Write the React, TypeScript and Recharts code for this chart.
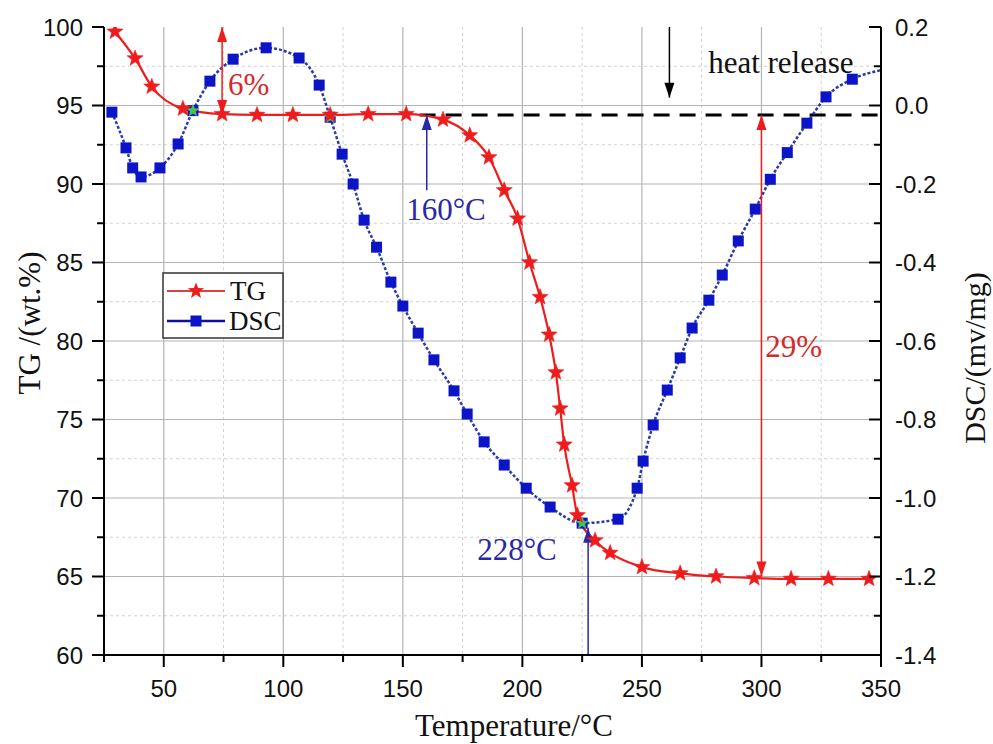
import React from "react";
import { LineChart, Line, XAxis, YAxis, CartesianGrid, ReferenceLine, ReferenceDot } from "recharts";

// TG curve (red stars), temperature in °C, mass in wt.%
const TG_TEMP = [29.6, 38, 45, 58, 74.4, 89, 104, 119.6, 135.5, 151.4, 166.8, 178, 186, 192.4, 198, 203, 207.4, 211.2, 214, 215.8, 217.5, 220.8, 223, 230.4, 236.7, 250, 266, 281, 297, 312.4, 328, 345];
const TG_VALUES = [99.7, 98.0, 96.2, 94.8, 94.45, 94.4, 94.4, 94.4, 94.45, 94.45, 94.1, 93.1, 91.7, 89.6, 87.8, 85.0, 82.8, 80.4, 78.0, 75.7, 73.4, 70.8, 68.9, 67.3, 66.5, 65.6, 65.2, 65.0, 64.9, 64.85, 64.85, 64.85];

// DSC curve (blue squares), mv/mg
const DSC_TEMP = [28.3, 34.2, 37, 40.5, 48.4, 56, 62.2, 69.3, 79, 92.8, 106.6, 115, 119.6, 124.6, 129.2, 133.8, 139, 145, 150, 156.4, 163, 171.4, 176.9, 184, 192.4, 201.6, 211.6, 225, 240, 248, 250.5, 254.7, 260.6, 266, 271, 278, 283.6, 290.3, 297.4, 303.7, 310.8, 319, 327, 338, 350];
const DSC_VALUES = [-0.017, -0.108, -0.159, -0.182, -0.159, -0.098, -0.013, 0.062, 0.118, 0.147, 0.121, 0.052, -0.03, -0.124, -0.2, -0.292, -0.361, -0.45, -0.511, -0.58, -0.648, -0.727, -0.786, -0.857, -0.916, -0.975, -1.023, -1.064, -1.054, -0.975, -0.906, -0.814, -0.725, -0.643, -0.567, -0.496, -0.432, -0.345, -0.264, -0.188, -0.12, -0.045, 0.022, 0.067, 0.09];
// crossing points marked green on the DSC curve
const HIGHLIGHT_TEMPS = [62.2, 119.6, 225];

const X_MAJOR = [50, 100, 150, 200, 250, 300, 350];
const X_MINOR = [25, 75, 125, 175, 225, 275, 325];
const TG_MAJOR = [60, 65, 70, 75, 80, 85, 90, 95, 100];
const TG_MINOR = [62.5, 67.5, 72.5, 77.5, 82.5, 87.5, 92.5, 97.5];
const DSC_MAJOR = [-1.4, -1.2, -1.0, -0.8, -0.6, -0.4, -0.2, 0.0, 0.2];
const DSC_MINOR = [-1.3, -1.1, -0.9, -0.7, -0.5, -0.3, -0.1, 0.1];

const tgData = TG_TEMP.map((t, i) => ({ t, tg: TG_VALUES[i] }));
const dscData = DSC_TEMP.map((t, i) => ({ t, dsc: DSC_VALUES[i] }));

const SANS = "'Liberation Sans', Arial, sans-serif";
const SERIF = "'Liberation Serif', 'Times New Roman', serif";
const RED = "#ee1c1c";
const BLUE = "#0c14c8";
const NOTE_BLUE = "#2828a8";

const isMajor = (list: number[], v: number) => list.some((m) => Math.abs(m - v) < 1e-6);

const starPath = (cx: number, cy: number, R: number, r: number) => {
  let d = "";
  for (let i = 0; i < 10; i++) {
    const a = -Math.PI / 2 + (i * Math.PI) / 5;
    const rad = i % 2 === 0 ? R : r;
    d += (i === 0 ? "M" : "L") + (cx + rad * Math.cos(a)).toFixed(2) + "," + (cy + rad * Math.sin(a)).toFixed(2);
  }
  return d + "Z";
};

const BottomTick = (props: any) => {
  const { x, y, payload } = props;
  const major = isMajor(X_MAJOR, payload.value);
  return (
    <g>
      <line x1={x} x2={x} y1={y} y2={y + (major ? 12 : 7)} stroke="#000" strokeWidth={2} />
      {major && (
        <text x={x} y={y + 42} textAnchor="middle" fontFamily={SANS} fontSize={24} fill="#111">
          {payload.value}
        </text>
      )}
    </g>
  );
};

const LeftTick = (props: any) => {
  const { x, y, payload } = props;
  const major = isMajor(TG_MAJOR, payload.value);
  return (
    <g>
      <line x1={x} x2={x - (major ? 12 : 7)} y1={y} y2={y} stroke="#000" strokeWidth={2} />
      {major && (
        <text x={x - 21} y={y} dy={8.5} textAnchor="end" fontFamily={SANS} fontSize={24} fill="#111">
          {payload.value}
        </text>
      )}
    </g>
  );
};

const RightTick = (props: any) => {
  const { x, y, payload } = props;
  const major = isMajor(DSC_MAJOR, payload.value);
  return (
    <g>
      <line x1={x} x2={x - (major ? 12 : 7)} y1={y} y2={y} stroke="#000" strokeWidth={2} />
      {major && (
        <text x={x + 14} y={y} dy={8.5} textAnchor="start" fontFamily={SANS} fontSize={24} fill="#111">
          {payload.value.toFixed(1)}
        </text>
      )}
    </g>
  );
};

const StarDot = (props: any) => {
  const { cx, cy, index } = props;
  return <path key={`tg-${index}`} d={starPath(cx, cy, 8.5, 3.6)} fill={RED} stroke={RED} strokeWidth={0.5} />;
};

const SquareDot = (props: any) => {
  const { cx, cy, index, payload } = props;
  if (index === DSC_TEMP.length - 1) return <g key={`dsc-${index}`} />;
  const hl = HIGHLIGHT_TEMPS.some((t) => Math.abs(t - payload.t) < 0.01);
  return (
    <g key={`dsc-${index}`}>
      <rect x={cx - 5.5} y={cy - 5.5} width={11} height={11} fill={BLUE} />
      {hl && <path d={starPath(cx, cy, 7, 3)} fill="#4cc04c" />}
    </g>
  );
};

const arrow = (x: number, y: number, dx: number, dy: number, color: string, len = 15, half = 5) => {
  const n = Math.hypot(dx, dy) || 1;
  const ux = dx / n;
  const uy = dy / n;
  const bx = x - ux * len;
  const by = y - uy * len;
  return (
    <polygon
      points={`${x},${y} ${bx - uy * half},${by + ux * half} ${bx + uy * half},${by - ux * half}`}
      fill={color}
    />
  );
};

const arrowShape = (color: string, width: number, start: boolean, end: boolean) => (p: any) => {
  const { x1, y1, x2, y2 } = p;
  return (
    <g>
      <line x1={x1} y1={y1} x2={x2} y2={y2} stroke={color} strokeWidth={width} />
      {end && arrow(x2, y2, x2 - x1, y2 - y1, color)}
      {start && arrow(x1, y1, x1 - x2, y1 - y2, color)}
    </g>
  );
};

const noteShape = (text: string, color: string) => (p: any) => (
  <text x={p.cx} y={p.cy} fontFamily={SERIF} fontSize={31} fill={color}>
    {text}
  </text>
);

export default function App() {
  return (
    <div style={{ position: "absolute", left: 0, top: 0, width: 993, height: 744, background: "#fff" }}>
      <LineChart width={993} height={744} margin={{ top: 27, right: 42, left: 44, bottom: 49 }}>
        <CartesianGrid
          yAxisId="left"
          stroke="#d2d2d2"
          strokeDasharray="3 3"
          horizontalValues={TG_MINOR}
          verticalValues={X_MINOR.slice(1)}
        />
        <CartesianGrid
          yAxisId="left"
          stroke="#b4b4b4"
          strokeWidth={1.2}
          horizontalValues={TG_MAJOR.slice(1, -1)}
          verticalValues={X_MAJOR.slice(0, -1)}
        />
        <XAxis
          dataKey="t"
          type="number"
          domain={[25, 350]}
          ticks={[...X_MINOR, ...X_MAJOR].sort((a, b) => a - b)}
          interval={0}
          tick={<BottomTick />}
          tickLine={false}
          tickSize={0}
          tickMargin={0}
          axisLine={{ stroke: "#000", strokeWidth: 2 }}
          height={40}
          allowDataOverflow
        />
        <XAxis
          xAxisId="top"
          orientation="top"
          type="number"
          domain={[25, 350]}
          tick={false}
          tickLine={false}
          axisLine={{ stroke: "#000", strokeWidth: 2 }}
          height={0}
        />
        <YAxis
          yAxisId="left"
          type="number"
          domain={[60, 100]}
          ticks={[...TG_MINOR, ...TG_MAJOR].sort((a, b) => a - b)}
          interval={0}
          tick={<LeftTick />}
          tickLine={false}
          tickSize={0}
          tickMargin={0}
          axisLine={{ stroke: "#000", strokeWidth: 2 }}
          width={60}
          allowDataOverflow
        />
        <YAxis
          yAxisId="right"
          orientation="right"
          type="number"
          domain={[-1.4, 0.2]}
          ticks={[...DSC_MINOR, ...DSC_MAJOR].sort((a, b) => a - b)}
          interval={0}
          tick={<RightTick />}
          tickLine={false}
          tickSize={0}
          tickMargin={0}
          axisLine={{ stroke: "#000", strokeWidth: 2 }}
          width={70}
          allowDataOverflow
        />

        <ReferenceLine
          yAxisId="left"
          segment={[{ x: 157, y: 94.4 }, { x: 350, y: 94.4 }]}
          stroke="#000"
          strokeWidth={3}
          strokeDasharray="16 10"
        />

        <Line
          data={dscData}
          dataKey="dsc"
          yAxisId="right"
          type="monotone"
          stroke="#2b3aa8"
          strokeWidth={2.5}
          strokeDasharray="3 2"
          dot={SquareDot}
          activeDot={false}
          isAnimationActive={false}
        />
        <Line
          data={tgData}
          dataKey="tg"
          yAxisId="left"
          type="monotone"
          stroke={RED}
          strokeWidth={2.2}
          dot={StarDot}
          activeDot={false}
          isAnimationActive={false}
        />

        <ReferenceLine yAxisId="left" segment={[{ x: 74.4, y: 94.4 }, { x: 74.4, y: 100 }]} shape={arrowShape(RED, 1.5, true, true)} />
        <ReferenceLine yAxisId="left" segment={[{ x: 160, y: 89.6 }, { x: 160, y: 94.4 }]} shape={arrowShape(NOTE_BLUE, 1.5, false, true)} />
        <ReferenceLine yAxisId="left" segment={[{ x: 261.5, y: 100 }, { x: 261.5, y: 95.5 }]} shape={arrowShape("#000", 1.5, false, true)} />
        <ReferenceLine yAxisId="left" segment={[{ x: 300, y: 65 }, { x: 300, y: 94.4 }]} shape={arrowShape(RED, 1.5, true, true)} />
        <ReferenceLine yAxisId="left" segment={[{ x: 227.5, y: 60 }, { x: 227.5, y: 68.1 }]} shape={arrowShape(NOTE_BLUE, 1.5, false, true)} />

        <ReferenceDot yAxisId="left" x={76.9} y={95.67} r={0} shape={noteShape("6%", "#d42a2a")} />
        <ReferenceDot yAxisId="left" x={151.4} y={87.7} r={0} shape={noteShape("160°C", NOTE_BLUE)} />
        <ReferenceDot yAxisId="left" x={277.7} y={97.07} r={0} shape={noteShape("heat release", "#111")} />
        <ReferenceDot yAxisId="left" x={301.6} y={78.98} r={0} shape={noteShape("29%", "#d42a2a")} />
        <ReferenceDot yAxisId="left" x={181.1} y={66.05} r={0} shape={noteShape("228°C", NOTE_BLUE)} />
      </LineChart>

      <svg width={993} height={744} style={{ position: "absolute", left: 0, top: 0, pointerEvents: "none" }}>
        <text x={514} y={736} textAnchor="middle" fontFamily={SERIF} fontSize={31} fill="#111">
          Temperature/°C
        </text>
        <text transform="translate(29,323) rotate(-90)" textAnchor="middle" dominantBaseline="central" fontFamily={SERIF} fontSize={31} fill="#111">
          TG /(wt.%)
        </text>
        <text transform="translate(974,358) rotate(-90)" textAnchor="middle" dominantBaseline="central" fontFamily={SERIF} fontSize={30} fill="#111">
          DSC/(mv/mg)
        </text>

        <rect x={163} y={273} width={120} height={65} fill="#fff" stroke="#333" strokeWidth={1.5} />
        <line x1={167} x2={225} y1={291} y2={291} stroke="#e04040" strokeWidth={2} />
        <path d={starPath(196, 291, 8.5, 3.6)} fill={RED} />
        <text x={230} y={300} fontFamily={SERIF} fontSize={27} fill="#111">TG</text>
        <line x1={167} x2={225} y1={321} y2={321} stroke="#1010a0" strokeWidth={2.5} />
        <rect x={190.5} y={315.5} width={11} height={11} fill={BLUE} />
        <text x={229} y={330} fontFamily={SERIF} fontSize={27} fill="#111">DSC</text>
      </svg>
    </div>
  );
}
